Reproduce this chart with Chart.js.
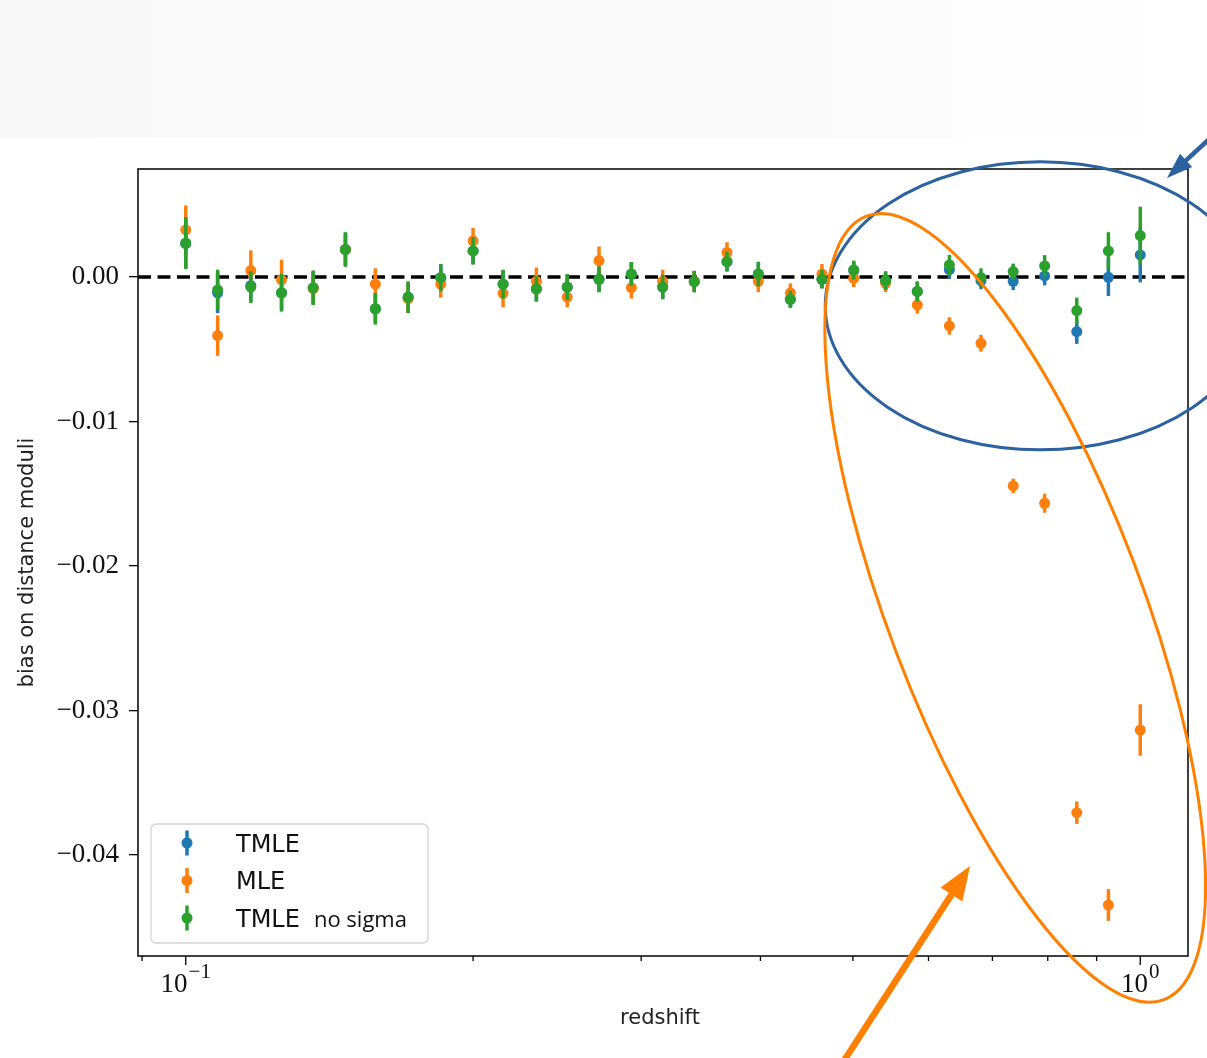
<!DOCTYPE html>
<html><head><meta charset="utf-8">
<script src="https://cdn.jsdelivr.net/npm/chart.js@4/dist/chart.umd.min.js"></script>
<style>
html,body{margin:0;padding:0;background:#fff;}
#wrap{position:relative;width:1207px;height:1058px;overflow:hidden;}
#band{position:absolute;left:0;top:0;width:1207px;height:138px;background:linear-gradient(90deg,#f8f8f8 0%,#f9f9f9 40%,#fafafa 65%,#fdfdfd 85%,#fff 100%);}
canvas{position:absolute;left:0;top:0;}
</style></head><body>
<div id="wrap"><div id="band"></div><canvas id="c" width="1207" height="1058"></canvas></div>
<script>
// ---- data ----
const redshift = [0.1, 0.108, 0.117, 0.126, 0.136, 0.147, 0.158, 0.171, 0.185, 0.2, 0.215, 0.233, 0.251, 0.271, 0.293, 0.316, 0.341, 0.369, 0.398, 0.43, 0.464, 0.501, 0.541, 0.584, 0.631, 0.681, 0.736, 0.794, 0.858, 0.926, 1.0];
const tmle = [0.0023, -0.0011, -0.0006, -0.0011, -0.00075, 0.0019, -0.0022, -0.0014, -0.00005, 0.0018, -0.0005, -0.00083, -0.0007, -0.00016, 0.0002, -0.0007, -0.00032, 0.00106, 0.0002, -0.00155, -0.00016, 0.00045, -0.00028, -0.001, 0.0005, -0.00025, -0.0003, 0.00007, -0.00378, -0.00002, 0.00152];
const tmleErr = [0.0017, 0.0014, 0.0011, 0.0012, 0.0011, 0.0011, 0.001, 0.001, 0.0009, 0.0009, 0.00095, 0.00085, 0.00085, 0.00085, 0.0008, 0.0008, 0.0007, 0.00065, 0.0008, 0.00055, 0.0006, 0.0006, 0.0006, 0.00065, 0.0006, 0.0006, 0.0006, 0.00065, 0.00085, 0.0013, 0.0019];
const mle = [0.00325, -0.00406, 0.00044, -0.0002, -0.0008, 0.0019, -0.0005, -0.0015, -0.0005, 0.0025, -0.00113, -0.0003, -0.0014, 0.00113, -0.00074, -0.0003, -0.0003, 0.0017, -0.0003, -0.0011, 0.0002, -0.0001, -0.00044, -0.00194, -0.00339, -0.00459, -0.01446, -0.01566, -0.03707, -0.04346, -0.03135];
const mleErr = [0.0017, 0.0014, 0.0014, 0.0014, 0.0011, 0.0011, 0.0011, 0.001, 0.00093, 0.0009, 0.00097, 0.00095, 0.0007, 0.00097, 0.00075, 0.0008, 0.0007, 0.0007, 0.00075, 0.00065, 0.0007, 0.0006, 0.0006, 0.0006, 0.0006, 0.00058, 0.0005, 0.00066, 0.00078, 0.0011, 0.00178];
const tmleNoSigma = [0.00235, -0.0009, -0.0007, -0.0011, -0.00075, 0.0019, -0.0022, -0.0014, -0.00005, 0.0018, -0.0005, -0.00083, -0.0007, -0.00016, 0.0002, -0.0007, -0.00032, 0.00106, 0.0002, -0.00155, -0.00016, 0.00048, -0.00025, -0.001, 0.00083, -0.00005, 0.00037, 0.00076, -0.00233, 0.0018, 0.00286];
const tmleNoSigmaErr = [0.0018, 0.0014, 0.0011, 0.0013, 0.0012, 0.0012, 0.0011, 0.0011, 0.00095, 0.00095, 0.001, 0.00088, 0.0009, 0.0009, 0.00083, 0.00085, 0.00075, 0.0007, 0.00085, 0.0006, 0.00065, 0.00065, 0.00065, 0.0007, 0.0007, 0.00065, 0.00055, 0.00075, 0.0009, 0.0013, 0.002];
const seriesNames = ['TMLE', 'MLE', 'TMLE no sigma'];
const seriesColors = ['#1f77b4', '#ff7f0e', '#2ca02c'];
const yTicks = [-0.04, -0.03, -0.02, -0.01, 0];
const xMajorTicks = [0.1, 1];
const xMajorLabels = [['10', '\u22121'], ['10', '0']];
const xMinorTicks = [0.09, 0.2, 0.3, 0.4, 0.5, 0.6, 0.7, 0.8, 0.9];
const xRange = [0.089125, 1.12202];
const yRange = [-0.04699, 0.00747];
const xTitle = 'redshift';
const yTitle = 'bias on distance moduli';

// annotation overlays (centres in data coordinates, sizes in px)
const ellipses = [
  {center: [0.7856, -0.0020], rx: 215, ry: 144, rot: 0, color: '#2d62a0', width: 3},
  {center: [0.7396, -0.0229], rx: 127, ry: 419, rot: -20.8, color: '#ff8000', width: 3}
];
const arrows = [
  {from: [1232, 118], to: [1167, 178], color: '#2d62a0', width: 4.5, head: 26, half: 9},
  {from: [838, 1070], to: [970, 866], color: '#ff8000', width: 6.5, head: 34, half: 13}
];

const toPts = ys => redshift.map((z, i) => ({x: z, y: ys[i]}));

const errorBars = {
  id: 'errorBars',
  beforeDatasetDraw(chart, args) {
    const ds = chart.data.datasets[args.index];
    if (!ds.errors) return;
    const {ctx, scales: {x, y}} = chart;
    ctx.save();
    ctx.strokeStyle = ds.backgroundColor;
    ctx.lineWidth = 3.5;
    ds.data.forEach((p, i) => {
      const e = ds.errors[i];
      const px = x.getPixelForValue(p.x);
      ctx.beginPath();
      ctx.moveTo(px, y.getPixelForValue(p.y - e));
      ctx.lineTo(px, y.getPixelForValue(p.y + e));
      ctx.stroke();
    });
    ctx.restore();
  }
};

const decor = {
  id: 'decor',
  afterDraw(chart) {
    const {ctx, chartArea: a, scales: {x, y}} = chart;
    ctx.save();
    // frame
    ctx.strokeStyle = '#111'; ctx.lineWidth = 1.6;
    ctx.strokeRect(a.left, a.top, a.right - a.left, a.bottom - a.top);
    // x ticks
    ctx.lineWidth = 1.3; ctx.strokeStyle = '#000';
    xMinorTicks.forEach(v => { const px = x.getPixelForValue(v); ctx.beginPath(); ctx.moveTo(px, a.bottom); ctx.lineTo(px, a.bottom + 5); ctx.stroke(); });
    xMajorTicks.forEach((v, k) => {
      const px = x.getPixelForValue(v);
      ctx.beginPath(); ctx.moveTo(px, a.bottom); ctx.lineTo(px, a.bottom + 9); ctx.stroke();
      const [b, s] = xMajorLabels[k];
      ctx.fillStyle = '#111'; ctx.textBaseline = 'alphabetic'; ctx.textAlign = 'left';
      ctx.font = '27px "Liberation Serif"'; const wb = ctx.measureText(b).width;
      ctx.font = '21px "Liberation Serif"'; const ws = ctx.measureText(s).width;
      const x0 = px - (wb + ws + 1) / 2;
      ctx.font = '27px "Liberation Serif"'; ctx.fillText(b, x0, a.bottom + 36);
      ctx.font = '21px "Liberation Serif"'; ctx.fillText(s, x0 + wb + 1, a.bottom + 22);
    });
    // axis titles
    ctx.fillStyle = '#222'; ctx.font = '21px "DejaVu Sans"'; ctx.textAlign = 'center'; ctx.textBaseline = 'middle';
    ctx.fillText(xTitle, (a.left + a.right) / 2 - 3, a.bottom + 63);
    ctx.save(); ctx.translate(28, (a.top + a.bottom) / 2); ctx.rotate(-Math.PI / 2);
    ctx.fillText(yTitle, 0, 0); ctx.restore();
    // legend
    const lx = a.left + 13, lw = 277, lh = 119, ly = a.bottom - 13 - lh;
    ctx.beginPath(); ctx.roundRect(lx, ly, lw, lh, 5);
    ctx.fillStyle = 'rgba(255,255,255,0.85)'; ctx.fill();
    ctx.strokeStyle = '#d4d4d4'; ctx.lineWidth = 1.3; ctx.stroke();
    seriesNames.forEach((name, k) => {
      const cy = ly + 19 + k * 37.5, mx = lx + 36;
      ctx.strokeStyle = seriesColors[k]; ctx.lineWidth = 3.5;
      ctx.beginPath(); ctx.moveTo(mx, cy - 12.5); ctx.lineTo(mx, cy + 12.5); ctx.stroke();
      ctx.fillStyle = seriesColors[k]; ctx.beginPath(); ctx.arc(mx, cy, 5.5, 0, Math.PI * 2); ctx.fill();
      const parts = name.split(' ');
      const first = parts.shift(), rest = parts.join(' ');
      ctx.fillStyle = '#111'; ctx.textAlign = 'left'; ctx.textBaseline = 'alphabetic';
      ctx.font = '24px "DejaVu Sans"'; ctx.fillText(first, lx + 85, cy + 8.5);
      if (rest) { const w = ctx.measureText(first).width; ctx.font = '22px "Open Sans"'; ctx.fillText(rest, lx + 85 + w + 14, cy + 8.5); }
    });
    // ellipses
    ellipses.forEach(e => {
      ctx.strokeStyle = e.color; ctx.lineWidth = e.width;
      ctx.beginPath();
      ctx.ellipse(x.getPixelForValue(e.center[0]), y.getPixelForValue(e.center[1]), e.rx, e.ry, e.rot * Math.PI / 180, 0, Math.PI * 2);
      ctx.stroke();
    });
    // arrows
    arrows.forEach(r => {
      const [x1, y1] = r.from, [x2, y2] = r.to;
      const L = Math.hypot(x2 - x1, y2 - y1), ux = (x2 - x1) / L, uy = (y2 - y1) / L;
      const bx = x2 - ux * r.head, by = y2 - uy * r.head;
      ctx.strokeStyle = r.color; ctx.fillStyle = r.color; ctx.lineWidth = r.width;
      ctx.beginPath(); ctx.moveTo(x1, y1); ctx.lineTo(bx + ux * 2, by + uy * 2); ctx.stroke();
      ctx.beginPath(); ctx.moveTo(x2, y2);
      ctx.lineTo(bx - uy * r.half, by + ux * r.half);
      ctx.lineTo(bx + uy * r.half, by - ux * r.half);
      ctx.closePath(); ctx.fill();
    });
    ctx.restore();
  }
};

const pointDs = (k, ys, errs, order) => ({
  label: seriesNames[k], data: toPts(ys), errors: errs,
  backgroundColor: seriesColors[k], borderColor: seriesColors[k],
  pointRadius: 5.5, pointBorderWidth: 0, pointHoverRadius: 5.5, order: order, showLine: false
});

new Chart(document.getElementById('c'), {
  type: 'scatter',
  data: {
    datasets: [
      {type: 'line', label: 'zero', data: [{x: xRange[0], y: 0}, {x: xRange[1], y: 0}],
       borderColor: '#000', borderWidth: 3.5, borderDash: [13, 6.5], pointRadius: 0, fill: false, order: 10},
      pointDs(0, tmle, tmleErr, 3),
      pointDs(1, mle, mleErr, 2),
      pointDs(2, tmleNoSigma, tmleNoSigmaErr, 1)
    ]
  },
  options: {
    responsive: false, animation: false, devicePixelRatio: 1,
    layout: {padding: {top: 169, right: 19, left: 0, bottom: 0}},
    plugins: {legend: {display: false}, tooltip: {enabled: false}},
    events: [],
    scales: {
      x: {
        type: 'logarithmic', min: xRange[0], max: xRange[1],
        ticks: {display: false}, grid: {display: false}, border: {display: false},
        afterFit: s => { s.height = 102; }
      },
      y: {
        type: 'linear', min: yRange[0], max: yRange[1],
        afterBuildTicks: s => { s.ticks = yTicks.map(v => ({value: v})); },
        ticks: {
          callback: v => (v < 0 ? '\u2212' : '') + Math.abs(v).toFixed(2),
          font: {family: 'Liberation Serif', size: 27}, color: '#111', padding: 10
        },
        grid: {display: true, drawOnChartArea: false, drawTicks: true, tickLength: 9, tickColor: '#000', tickWidth: 1.3, color: '#000', lineWidth: 1.3},
        border: {display: false},
        afterFit: s => { s.width = 138; }
      }
    }
  },
  plugins: [errorBars, decor]
});
</script>
</body></html>
